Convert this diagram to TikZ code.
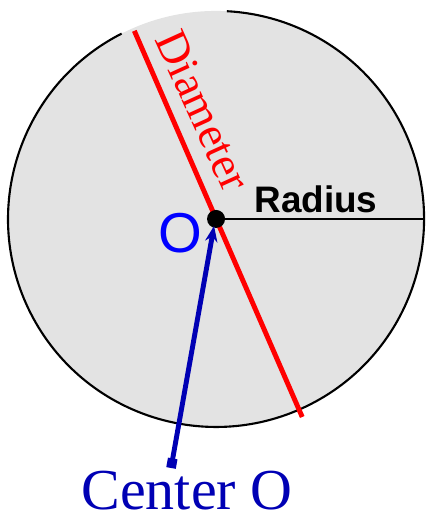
\documentclass[tikz,border=0pt]{standalone}
\usepackage{fontspec}
\setmainfont{Liberation Serif}
\setsansfont{Liberation Sans}
\usetikzlibrary{arrows.meta,calc}
\definecolor{discgray}{gray}{0.89}
\definecolor{navy}{RGB}{0,0,180}

\begin{document}
\begin{tikzpicture}[scale=0.02,
    rim/.style={black, line width=1.2pt},
    diam/.style={red, line width=2.8pt},
    ptr/.style={navy, line width=2.8pt, {Square[length=5.5pt,width=5.5pt]}-{Stealth[length=9pt,width=7pt]}}]
    \useasboundingbox (0,0) rectangle (427,520);

    % Centre du cercle
    \coordinate (O) at (216,301);

    % Disque et bord (ouvert en haut)
    \fill[discgray] (O) circle (208);
    \draw[rim] (O) ++(117:208) arc[start angle=117, end angle=447, radius=208];

    % Rayon
    \coordinate (R) at (425,301);
    \draw[rim] (O) -- (R);
    \node[font=\sffamily\bfseries\fontsize{21}{25}\selectfont, anchor=base] (rlbl) at (316,307) {Radius};

    % Diametre
    \coordinate (D1) at ($(O)+(113.5:205)$);
    \coordinate (D2) at ($(O)+(-66.5:216)$);
    \draw[diam] (D1) -- (D2);
    \node[red, font=\fontsize{26}{30}\selectfont, rotate=-65.5, inner sep=0pt] (dlbl) at (203,409) {Diameter};

    % Centre O
    \fill[black] (O) circle (9);
    \node[blue, font=\sffamily\fontsize{32}{36}\selectfont, anchor=base] (olbl) at (180,268) {O};

    % Fleche vers le centre
    \coordinate (tail) at (171,52);
    \coordinate (tip) at (214,294);
    \node[navy, font=\fontsize{33}{38}\selectfont, anchor=base, inner sep=0pt] (ctr) at (187,10) {Center O};
    \draw[ptr] (tail) -- (tip);
\end{tikzpicture}
\end{document}
